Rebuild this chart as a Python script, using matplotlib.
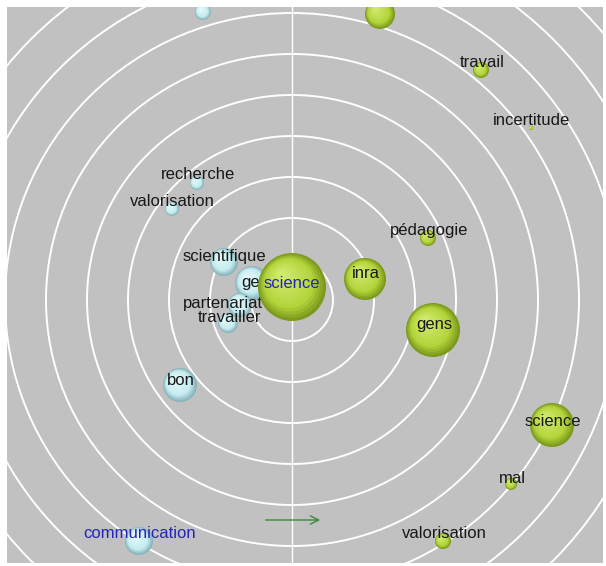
import matplotlib.pyplot as plt
from matplotlib.patches import Circle, FancyArrowPatch
import matplotlib.colors as mcolors
import numpy as np

# sphere positions (pixel coords of the original map, y downward), radii and labels
blue_x = [203, 197, 172, 224, 252, 240, 228, 180, 139]
blue_y = [12, 183, 209, 262, 283, 305, 323, 385, 541]
blue_r = [8, 7, 7, 14, 17, 12, 10, 17, 14]
blue_labels = ['', 'recherche', 'valorisation', 'scientifique', 'gens',
               'partenariat', 'travailler', 'bon', 'communication']
blue_label_x = [203, 198, 172, 224, 259, 223, 229, 181, 140]
blue_label_y = [0, 175, 202, 257, 283, 304, 318, 381, 534]

green_x = [380, 481, 531, 428, 365, 433, 552, 511, 443]
green_y = [14, 70, 128, 238, 279, 330, 425, 484, 541]
green_r = [15, 8, 2, 8, 21, 27, 22, 6, 8]
green_labels = ['', 'travail', 'incertitude', 'pédagogie', 'inra', 'gens',
                'science', 'mal', 'valorisation']
green_label_y = [0, 63, 121, 231, 274, 325, 422, 479, 534]

center_label = 'science'
center_xy = (292, 287)
center_r = 34

ring_center = (292, 300)
ring_step = 41
n_rings = 10

bg = '#c1c1c1'

fig = plt.figure(figsize=(6.06, 5.66), dpi=100)
ax = fig.add_axes([7 / 606, 3 / 566, 596 / 606, 556 / 566])
ax.set_facecolor(bg)
ax.set_xlim(7, 603)
ax.set_ylim(563, 7)
ax.set_xticks([])
ax.set_yticks([])
for s in ax.spines.values():
    s.set_visible(False)

for k in range(1, n_rings + 1):
    ax.add_patch(Circle(ring_center, k * ring_step, fill=False, ec='white', lw=1.4, zorder=1))
ax.axvline(ring_center[0], color='white', lw=1.0, zorder=1)


def sphere(x, y, r, dark, mid, light, z):
    dark = np.array(mcolors.to_rgb(dark))
    mid = np.array(mcolors.to_rgb(mid))
    light = np.array(mcolors.to_rgb(light))
    n = 14
    for i in range(n):
        t = i / (n - 1)
        rr = r * (1 - 0.85 * t)
        cx = x - 0.3 * r * t
        cy = y - 0.35 * r * t
        if t < 0.3:
            c = dark + (mid - dark) * (t / 0.3)
        else:
            c = mid + (light - mid) * ((t - 0.3) / 0.7) * 0.8
        ax.add_patch(Circle((cx, cy), rr, color=c, lw=0, zorder=z))


font = dict(family='Liberation Sans', fontsize=12)
txt_dark = '#181818'
txt_blue = '#2424b8'

for x, y, r in zip(blue_x, blue_y, blue_r):
    sphere(x, y, r, '#88b4bc', '#c6ecef', '#eafcfc', 2)
for lx, ly, lab in zip(blue_label_x, blue_label_y, blue_labels):
    if lab:
        col = txt_blue if lab == 'communication' else txt_dark
        ax.text(lx, ly, lab, color=col, ha='center', va='center', zorder=3, **font)

for x, y, r, ly, lab in zip(green_x, green_y, green_r, green_label_y, green_labels):
    sphere(x, y, r, '#7c9a1c', '#b4d43a', '#d6ee7a', 2)
    if lab:
        ax.text(x + 1, ly, lab, color=txt_dark, ha='center', va='center', zorder=3, **font)

sphere(center_xy[0], center_xy[1], center_r, '#7c9a1c', '#b4d43a', '#d6ee7a', 4)
ax.text(center_xy[0], center_xy[1] - 3, center_label, color=txt_blue,
        ha='center', va='center', zorder=5, **font)

ax.add_patch(FancyArrowPatch((263, 520), (323, 520), arrowstyle='->,head_length=6,head_width=3',
                             color='#3a8a3a', lw=1.0, zorder=3))

fig.savefig('out.png', dpi=100, facecolor='white')
